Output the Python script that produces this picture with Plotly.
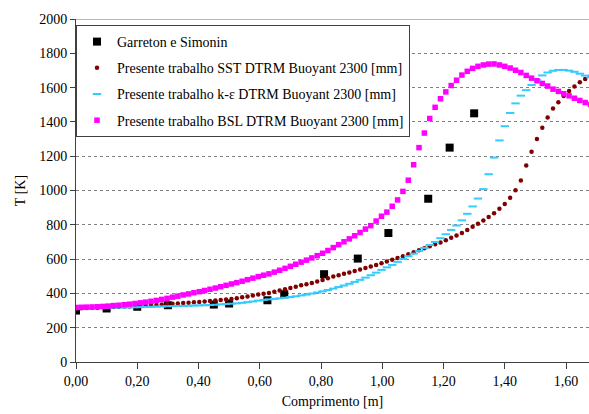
import plotly.graph_objects as go

# Sampling grid of the simulated profiles (m)
X_SIM = [round(i * 0.0175, 4) for i in range(97)]

# Presente trabalho BSL DTRM Buoyant 2300 [mm]  (K)
T_BSL = [
    318, 319, 320, 321, 322, 324, 326, 329, 331, 334,
    337, 341, 345, 349, 354, 359, 365, 371, 378, 384,
    391, 397, 404, 410, 417, 424, 431, 439, 447, 455,
    463, 471, 480, 489, 498, 506, 514, 524, 535, 546,
    558, 570, 582, 594, 607, 620, 634, 650, 667, 684,
    701, 718, 736, 755, 775, 795, 822, 850, 874, 908,
    945, 995, 1060, 1150, 1250, 1335, 1420, 1485, 1535, 1575,
    1612, 1643, 1673, 1695, 1712, 1724, 1732, 1737, 1738, 1732,
    1724, 1714, 1701, 1688, 1671, 1655, 1640, 1624, 1609, 1591,
    1578, 1564, 1552, 1538, 1525, 1513, 1502,
]

# Presente trabalho k-e DTRM Buoyant 2300 [mm]  (K)
T_KE = [
    312, 313, 314, 314, 315, 316, 316, 317, 318, 318,
    319, 319, 320, 321, 322, 323, 324, 325, 326, 327,
    327, 328, 329, 330, 331, 332, 334, 336, 338, 340,
    342, 345, 349, 353, 358, 362, 365, 368, 371, 375,
    379, 383, 388, 393, 399, 405, 412, 420, 428, 437,
    446, 456, 467, 479, 492, 506, 521, 537, 552, 566,
    584, 601, 617, 632, 648, 665, 682, 700, 722, 745,
    770, 796, 826, 864, 907, 953, 1008, 1095, 1192, 1292,
    1375, 1452, 1508, 1553, 1585, 1615, 1645, 1671, 1688, 1698,
    1703, 1703, 1699, 1692, 1681, 1670, 1660,
]

# Presente trabalho SST DTRM Buoyant 2300 [mm]  (K)
T_SST = [
    312, 313, 315, 316, 317, 319, 320, 321, 322, 323,
    324, 326, 327, 329, 331, 333, 335, 337, 339, 341,
    344, 346, 348, 350, 353, 356, 359, 362, 365, 368,
    372, 377, 382, 388, 394, 398, 403, 410, 417, 424,
    431, 439, 447, 454, 461, 469, 478, 489, 498, 506,
    514, 522, 530, 539, 548, 557, 566, 576, 586, 596,
    606, 617, 628, 640, 651, 663, 675, 686, 697, 710,
    724, 737, 752, 770, 788, 806, 825, 846, 868, 893,
    922, 957, 1002, 1058, 1146, 1226, 1300, 1366, 1426, 1478,
    1515, 1551, 1580, 1607, 1631, 1650, 1666,
]

# Garreton e Simonin (experimental)
X_EXP = [0.0, 0.10, 0.20, 0.30, 0.45, 0.50, 0.625, 0.68, 0.81, 0.92, 1.02, 1.15, 1.22, 1.30]
T_EXP = [300, 312, 322, 331, 335, 341, 360, 395, 512, 603, 752, 952, 1250, 1450]

X_TICKS = [0.0, 0.2, 0.4, 0.6, 0.8, 1.0, 1.2, 1.4, 1.6]
X_TICK_LABELS = ["0,00", "0,20", "0,40", "0,60", "0,80", "1,00", "1,20", "1,40", "1,60"]
Y_TICKS = list(range(0, 2001, 200))

FONT = "Times New Roman"
AXIS_COLOR = "#404040"

fig = go.Figure()

fig.add_trace(go.Scatter(
    x=X_EXP, y=T_EXP, mode="markers", name="Garreton e Simonin",
    legendgroup="g1",
    marker=dict(symbol="square", size=8, color="black"),
))
fig.add_trace(go.Scatter(
    x=X_SIM, y=T_SST, mode="markers",
    name="Presente trabalho SST DTRM Buoyant 2300 [mm]", legendgroup="g2",
    marker=dict(symbol="circle", size=4.5, color="#800000"),
))
fig.add_trace(go.Scatter(
    x=X_SIM, y=T_KE, mode="markers",
    name="Presente trabalho k-ε DTRM Buoyant 2300 [mm]", legendgroup="g3",
    marker=dict(symbol="line-ew", size=6, color="#33CCFF",
                line=dict(color="#33CCFF", width=2)),
))
fig.add_trace(go.Scatter(
    x=X_SIM, y=T_BSL, mode="markers",
    name="Presente trabalho BSL DTRM Buoyant 2300 [mm]", legendgroup="g4",
    marker=dict(symbol="square", size=5.5, color="#FF00FF"),
))

# solid line closing the top of the plot area at 2000 K
fig.add_shape(type="line", xref="paper", x0=0, x1=1, yref="y", y0=2000, y1=2000,
              line=dict(color="#A0A0A0", width=1.5), layer="below")

fig.update_layout(
    width=589, height=414,
    margin=dict(l=76, r=0, t=19, b=52),
    paper_bgcolor="white", plot_bgcolor="white",
    font=dict(family=FONT, size=14, color="black"),
    showlegend=True,
    legend=dict(
        x=0, y=0.9825, xanchor="left", yanchor="top",
        bgcolor="white", bordercolor=AXIS_COLOR, borderwidth=1,
        font=dict(family=FONT, size=14, color="black"),
        tracegroupgap=5, itemsizing="trace",
    ),
    xaxis=dict(
        range=[0, 1.675], tickvals=X_TICKS, ticktext=X_TICK_LABELS,
        showline=True, linecolor=AXIS_COLOR, linewidth=1,
        ticks="outside", ticklen=6, tickcolor=AXIS_COLOR,
        showgrid=False, zeroline=False,
        tickfont=dict(family=FONT, size=14),
        title=dict(text="Comprimento [m]", font=dict(family=FONT, size=14), standoff=8),
    ),
    yaxis=dict(
        range=[0, 2000], tickvals=Y_TICKS,
        showline=True, linecolor=AXIS_COLOR, linewidth=1,
        ticks="outside", ticklen=5, tickcolor=AXIS_COLOR,
        showgrid=True, gridcolor="#808080", griddash="dot", gridwidth=1,
        zeroline=False,
        tickfont=dict(family=FONT, size=14),
        title=dict(text="T [K]", font=dict(family=FONT, size=14), standoff=10),
    ),
)

fig.write_html("out.html")
